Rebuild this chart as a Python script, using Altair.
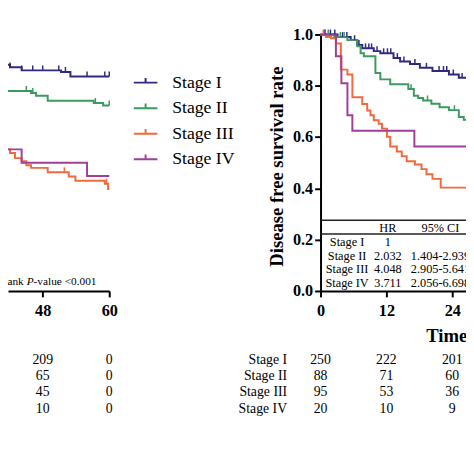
import altair as alt
import pandas as pd

SERIF = "Liberation Serif"

stages = ["Stage I", "Stage II", "Stage III", "Stage IV"]
stage_colors = ["#2F2A80", "#3B9A5D", "#F06A3B", "#A13E98"]

# ---------- left panel (only its 40-60 month tail is visible) ----------
left_times = {
    "Stage I":   [40.3, 41.2, 42.1, 44.2, 51.3, 53.0, 60.0],
    "Stage II":  [40.3, 45.9, 46.8, 48.9, 57.2, 58.9, 60.0],
    "Stage III": [40.3, 41.2, 42.1, 43.0, 44.2, 45.05, 45.9, 48.9, 52.7, 53.9, 59.2, 59.8, 60.0],
    "Stage IV":  [40.3, 44.2, 56.0, 60.0],
}
left_surv = {
    "Stage I":   [0.889, 0.882, 0.872, 0.860, 0.854, 0.836, 0.836],
    "Stage II":  [0.780, 0.772, 0.761, 0.742, 0.733, 0.723, 0.723],
    "Stage III": [0.565, 0.552, 0.538, 0.518, 0.506, 0.490, 0.480, 0.463, 0.446, 0.430, 0.418, 0.398, 0.398],
    "Stage IV":  [0.552, 0.500, 0.448, 0.448],
}
left_censor = {
    "Stage I":   [40.9, 42.1, 44.2, 46.2, 48.0, 50.9, 52.1, 56.0, 59.2, 60.0],
    "Stage II":  [45.05, 46.2, 57.5, 60.0],
    "Stage III": [40.8, 51.9, 59.5],
    "Stage IV":  [],
}

# ---------- right panel: disease free survival (0-26.5 months visible) ----------
right_times = {
    "Stage I":   [0, 3.1, 5.5, 6.7, 7.6, 9.7, 10.9, 13.3, 14.5, 16.3, 18.1, 20.4, 23.4, 25.2, 26.6],
    "Stage II":  [0, 2.5, 4.9, 6.7, 7.3, 7.9, 10.0, 10.9, 12.7, 16.0, 17.0, 17.8, 18.7, 20.2, 21.7, 23.4, 25.2, 26.1, 26.6],
    "Stage III": [0, 1.0, 1.9, 2.8, 3.7, 4.9, 5.8, 7.6, 8.5, 9.1, 9.7, 10.6, 11.2, 12.1, 12.7, 13.9, 14.8,
                  15.7, 17.2, 18.4, 19.3, 20.4, 21.9, 26.6],
    "Stage IV":  [0, 2.8, 3.8, 4.9, 5.8, 17.1, 26.6],
}
right_surv = {
    "Stage I":   [1.0, 0.990, 0.978, 0.959, 0.946, 0.935, 0.927, 0.908, 0.895, 0.885, 0.870, 0.858, 0.844, 0.831, 0.831],
    "Stage II":  [1.0, 0.990, 0.978, 0.954, 0.927, 0.915, 0.850, 0.825, 0.806, 0.787, 0.761, 0.752, 0.743, 0.730,
                  0.716, 0.705, 0.678, 0.667, 0.667],
    "Stage III": [1.0, 0.990, 0.985, 0.965, 0.863, 0.844, 0.755, 0.729, 0.704, 0.685, 0.666, 0.652, 0.633, 0.601,
                  0.563, 0.544, 0.525, 0.506, 0.493, 0.475, 0.455, 0.437, 0.403, 0.403],
    "Stage IV":  [1.0, 0.915, 0.810, 0.685, 0.625, 0.563, 0.563],
}
right_censor = {
    "Stage I":   [0.8, 1.8, 2.6, 4.0, 4.8, 6.2, 7.0, 8.2, 8.8, 9.3, 10.3, 11.5, 12.2, 12.8, 14.0, 15.2, 17.2,
                  19.3, 21.6, 22.4, 23.0, 24.2, 25.8],
    "Stage II":  [1.4, 3.6, 4.3, 16.5, 19.5, 24.4],
    "Stage III": [0.5],
    "Stage IV":  [0.8],
}

# ---------- numbers at risk ----------
risk_left_times = [48, 60]
risk_left = {"Stage I": [209, 0], "Stage II": [65, 0], "Stage III": [45, 0], "Stage IV": [10, 0]}
risk_right_times = [0, 12, 24]
risk_right = {"Stage I": [250, 222, 201], "Stage II": [88, 71, 60],
              "Stage III": [95, 53, 36], "Stage IV": [20, 10, 9]}

# ---------- hazard ratio table ----------
hr_rows = ["header"] + stages
hr_values = ["1", "2.032", "4.048", "3.711"]
ci_values = ["", "1.404-2.939", "2.905-5.641", "2.056-6.698"]

pval_parts = ["Log-rank", "P", "-value <0.001"]


# ---------- build tables ----------
def curve_df(times, surv):
    rows = []
    for st in stages:
        for t, s in zip(times[st], surv[st]):
            rows.append({"stage": st, "t": t, "s": s})
    return pd.DataFrame(rows)


def step_value(times, surv, t):
    val = surv[0]
    for tt, ss in zip(times, surv):
        if tt <= t:
            val = ss
    return val


def censor_df(times, surv, cens):
    rows = []
    for st in stages:
        for t in cens[st]:
            rows.append({"stage": st, "t": t, "s": step_value(times[st], surv[st], t)})
    return pd.DataFrame(rows, columns=["stage", "t", "s"])


def risk_df(tlist, risk):
    rows = []
    for st in stages:
        for t, n in zip(tlist, risk[st]):
            rows.append({"stage": st, "t": t, "n": str(n)})
    return pd.DataFrame(rows)


left_df = curve_df(left_times, left_surv)
right_df = curve_df(right_times, right_surv)
left_c = censor_df(left_times, left_surv, left_censor)
right_c = censor_df(right_times, right_surv, right_censor)
rl_df = risk_df(risk_left_times, risk_left)
rr_df = risk_df(risk_right_times, risk_right)
rr_lab = pd.DataFrame({"stage": stages, "t": [0] * 4})

hr_df = pd.DataFrame({"row": hr_rows,
                      "label": [""] + stages,
                      "hr": ["HR"] + hr_values,
                      "ci": ["95% CI"] + ci_values})

# ---------- layout constants ----------
W, H, BOTTOM_PAD = 466, 284, 166
Y_RANGE = [284, 23]
L_DOM, L_RANGE = [41.74, 60], [0, 103]
R_END = 26.51
R_DOM, R_RANGE = [0, R_END], [318, 466]
rule_df = pd.DataFrame({"row": ["header", "Stage I"], "x0": [0, 0], "x1": [R_END, R_END]})
pval_df = pd.DataFrame({"t": [60], "s": [0.0]})


def lscale():
    return alt.Scale(domain=L_DOM, range=L_RANGE, zero=False, nice=False)


def rscale():
    return alt.Scale(domain=R_DOM, range=R_RANGE, zero=False, nice=False)


def yscale():
    return alt.Scale(domain=[0, 1], range=Y_RANGE, zero=False, nice=False)


def riskscale():
    return alt.Scale(type="point", domain=stages, range=[354, 404], padding=0)


def hrrowscale():
    return alt.Scale(type="band", domain=hr_rows, range=[212, 282], paddingInner=0, paddingOuter=0)


def hrcolscale():
    return alt.Scale(type="point", domain=["label", "HR", "CI"], range=[345, 440], padding=0)


legend_def = alt.Legend(orient="none", legendX=127, legendY=59, title=None,
                        symbolType="M-1,0L1,0M0,0L0,-0.4", symbolSize=576,
                        symbolStrokeWidth=2, symbolFillColor="transparent",
                        labelFont=SERIF, labelFontSize=18, labelColor="black",
                        labelOffset=14, rowPadding=4, padding=0)


def color_enc():
    return alt.Color("stage:N", scale=alt.Scale(domain=stages, range=stage_colors), legend=legend_def)


axis_common = dict(labelFont=SERIF, labelFontSize=16.5, labelFontWeight="bold", labelColor="black",
                   domainColor="black", domainWidth=2, tickColor="black", tickWidth=2, tickSize=6,
                   labelFlush=False, grid=False)

left_axis = alt.Axis(orient="bottom", values=[48, 60], title=None, labelPadding=6, **axis_common)
right_axis = alt.Axis(orient="bottom", values=[0, 12, 24], labelPadding=6,
                      title="Time (months)", titleX=425, titleY=45, titleAlign="left",
                      titleBaseline="middle", titleFont=SERIF, titleFontSize=19,
                      titleFontWeight="bold", titleColor="black", **axis_common)
y_axis = alt.Axis(orient="left", offset=-318, values=[0, 0.2, 0.4, 0.6, 0.8, 1.0], format=".1f",
                  title="Disease free survival rate", titleX=-45, titleY=157, titleAngle=270,
                  titleAlign="center", titleBaseline="middle", titleFont=SERIF, titleFontSize=19,
                  titleFontWeight="bold", titleColor="black", labelPadding=2, **axis_common)

layers = []

# numbers at risk
layers.append(alt.Chart(rl_df).mark_text(font=SERIF, fontSize=14, color="black", baseline="middle").encode(
    x=alt.X("t:Q", scale=lscale(), axis=None),
    y=alt.Y("stage:N", scale=riskscale(), axis=None),
    text="n:N"))
layers.append(alt.Chart(rr_df).mark_text(font=SERIF, fontSize=14, color="black", baseline="middle").encode(
    x=alt.X("t:Q", scale=rscale(), axis=None),
    y=alt.Y("stage:N", scale=riskscale(), axis=None),
    text="n:N"))
layers.append(alt.Chart(rr_lab).mark_text(font=SERIF, fontSize=14, color="black", align="right",
                                          baseline="middle", dx=-34).encode(
    x=alt.X("t:Q", scale=rscale(), axis=None),
    y=alt.Y("stage:N", scale=riskscale(), axis=None),
    text="stage:N"))

# hazard ratio table
layers.append(alt.Chart(rule_df).mark_rule(color="#222222", strokeWidth=1.5).encode(
    x=alt.X("x0:Q", scale=rscale(), axis=None), x2="x1:Q",
    y=alt.Y("row:N", scale=hrrowscale(), axis=None, bandPosition=0)))
for field, colname, dx in [("label", "label", 0), ("hr", "HR", -6), ("ci", "CI", 0)]:
    d = hr_df.assign(col=colname)
    layers.append(alt.Chart(d).mark_text(font=SERIF, fontSize=12.5, color="black", dx=dx,
                                         baseline="middle", dy=1).encode(
        x=alt.X("col:N", scale=hrcolscale(), axis=None),
        y=alt.Y("row:N", scale=hrrowscale(), axis=None),
        text=f"{field}:N"))

# log-rank p value text (left panel)
for txt, dx, style in [(pval_parts[2], -13, "normal"), (pval_parts[1], -77, "italic"), (pval_parts[0], -87, "normal")]:
    layers.append(alt.Chart(pval_df.assign(txt=txt)).mark_text(
        font=SERIF, fontSize=11.5, fontStyle=style, color="black", align="right", baseline="middle",
        dx=dx, dy=-9).encode(
        x=alt.X("t:Q", scale=lscale(), axis=None),
        y=alt.Y("s:Q", scale=yscale(), axis=None),
        text="txt:N"))

# curves
layers.append(alt.Chart(left_df).mark_line(interpolate="step-after", strokeWidth=2).encode(
    x=alt.X("t:Q", scale=lscale(), axis=left_axis),
    y=alt.Y("s:Q", scale=yscale(), axis=None),
    color=color_enc(), detail="stage:N"))
layers.append(alt.Chart(left_c).mark_point(shape="M0,0L0,-1", size=100, strokeWidth=1.5, filled=False, opacity=1).encode(
    x=alt.X("t:Q", scale=lscale(), axis=None),
    y=alt.Y("s:Q", scale=yscale(), axis=None),
    color=color_enc()))
layers.append(alt.Chart(right_df).mark_line(interpolate="step-after", strokeWidth=2).encode(
    x=alt.X("t:Q", scale=rscale(), axis=right_axis),
    y=alt.Y("s:Q", scale=yscale(), axis=y_axis),
    color=color_enc(), detail="stage:N"))
layers.append(alt.Chart(right_c).mark_point(shape="M0,0L0,-1", size=100, strokeWidth=1.5, filled=False, opacity=1).encode(
    x=alt.X("t:Q", scale=rscale(), axis=None),
    y=alt.Y("s:Q", scale=yscale(), axis=None),
    color=color_enc()))

chart = alt.layer(*layers).resolve_scale(x="independent", y="independent").properties(
    width=W, height=H, autosize=alt.AutoSizeParams(type="none"),
    padding={"left": 0, "top": 0, "right": 0, "bottom": BOTTOM_PAD}, background="white"
).configure_view(stroke=None)

chart.save("out.html", embed_options={"renderer": "svg", "actions": False})
